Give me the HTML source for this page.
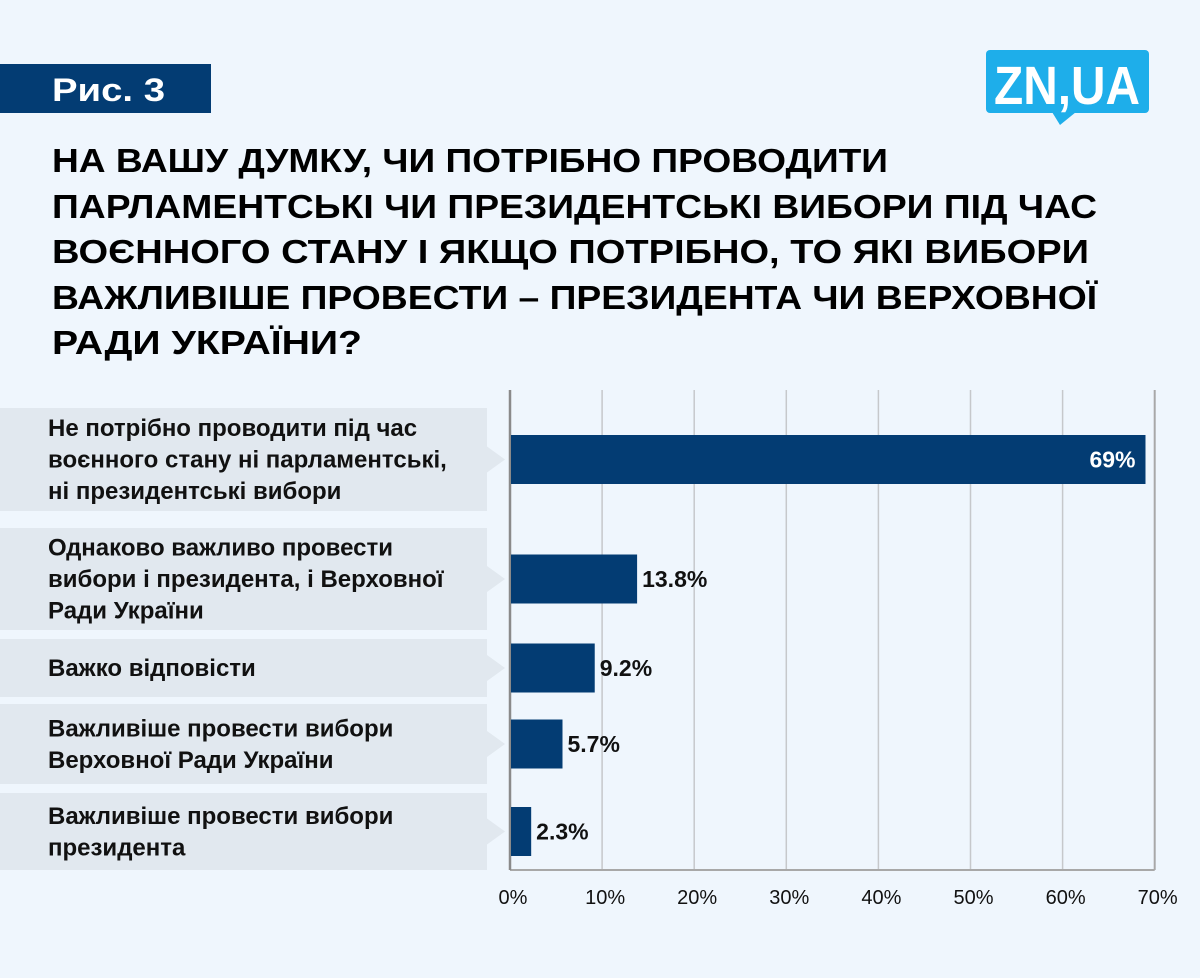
<!DOCTYPE html>
<html><head><meta charset="utf-8"><style>
html,body{margin:0;padding:0;background:#eff6fd;}
svg{display:block;font-family:"Liberation Sans",sans-serif;}
</style></head><body>
<svg width="1200" height="978" viewBox="0 0 1200 978">
<rect x="0" y="0" width="1200" height="978" fill="#eff6fd"/>
<rect x="0" y="64" width="211" height="49" fill="#033c73"/>
<text x="52" y="101" font-size="32" font-weight="bold" fill="#fff" textLength="113" lengthAdjust="spacingAndGlyphs">Рис. 3</text>
<g>
<rect x="986" y="50" width="163" height="63" rx="4" fill="#1eaeea"/>
<polygon points="1052,112 1076,112 1060,125" fill="#1eaeea"/>
<text x="1067" y="104" font-size="54" font-weight="bold" fill="#fff" text-anchor="middle" textLength="146" lengthAdjust="spacingAndGlyphs">ZN,UA</text>
</g>
<g font-size="33" font-weight="bold" fill="#000">
<text x="52" y="172" textLength="836" lengthAdjust="spacingAndGlyphs">НА ВАШУ ДУМКУ, ЧИ ПОТРІБНО ПРОВОДИТИ</text>
<text x="52" y="218" textLength="1045" lengthAdjust="spacingAndGlyphs">ПАРЛАМЕНТСЬКІ ЧИ ПРЕЗИДЕНТСЬКІ ВИБОРИ ПІД ЧАС</text>
<text x="52" y="263" textLength="1037" lengthAdjust="spacingAndGlyphs">ВОЄННОГО СТАНУ І ЯКЩО ПОТРІБНО, ТО ЯКІ ВИБОРИ</text>
<text x="52" y="309" textLength="1045" lengthAdjust="spacingAndGlyphs">ВАЖЛИВІШЕ ПРОВЕСТИ – ПРЕЗИДЕНТА ЧИ ВЕРХОВНОЇ</text>
<text x="52" y="354" textLength="310" lengthAdjust="spacingAndGlyphs">РАДИ УКРАЇНИ?</text>
</g>
<g id="grid"></g>
<g id="labels"></g>
<g id="bars"></g>
<g id="ticks"></g>
</svg>
<script>
const categories = [
 ["Не потрібно проводити під час","воєнного стану ні парламентські,","ні президентські вибори"],
 ["Однаково важливо провести","вибори і президента, і Верховної","Ради України"],
 ["Важко відповісти"],
 ["Важливіше провести вибори","Верховної Ради України"],
 ["Важливіше провести вибори","президента"]
];
const values = [69, 13.8, 9.2, 5.7, 2.3];
const valueLabels = ["69%","13.8%","9.2%","5.7%","2.3%"];
const tickValues = [0,10,20,30,40,50,60,70];
const tickLabels = ["0%","10%","20%","30%","40%","50%","60%","70%"];

const NS="http://www.w3.org/2000/svg";
const x0=510, pxPer=9.21, plotTop=390, plotBottom=870;
const xScale=v=>x0+v*pxPer;
const boxes=[[408,511],[528,630],[639,697],[704,784],[793,870]];
const barH=49;
function mk(tag,attrs,parent){const e=document.createElementNS(NS,tag);for(const k in attrs)e.setAttribute(k,attrs[k]);parent.appendChild(e);return e;}
const grid=document.getElementById('grid'), labels=document.getElementById('labels'), bars=document.getElementById('bars'), ticks=document.getElementById('ticks');

tickValues.forEach((t,i)=>{
 const x=xScale(t);
 if(i>0){const l=mk('line',{x1:x,x2:x,y1:plotTop,y2:plotBottom,stroke:i===tickValues.length-1?'#a8a8a8':'#c6c8cb','stroke-width':i===tickValues.length-1?2:1.5},grid);
 
 }
 const tx=mk('text',{x:x+3,y:904,'font-size':20,'text-anchor':'middle',fill:'#111'},ticks);
 tx.textContent=tickLabels[i];
 
 
});
const bl=mk('line',{x1:x0,x2:xScale(70),y1:plotBottom,y2:plotBottom,stroke:'#a8a8a8','stroke-width':2},grid);


const al=mk('line',{x1:x0,x2:x0,y1:plotTop,y2:plotBottom,stroke:'#8a8a8a','stroke-width':2.5},grid);



categories.forEach((lines,i)=>{
 const [y1,y2]=boxes[i], cy=(y1+y2)/2;
 const r=mk('rect',{x:0,y:y1,width:487,height:y2-y1,fill:'#e1e8ef'},labels);
 
 
 const p=mk('polygon',{points:`487,${cy-13} 505,${cy} 487,${cy+13}`,fill:'#e1e8ef'},labels);
 
 
 const lh=31.5, start=cy-(lines.length-1)*lh/2+8;
 lines.forEach((s,j)=>{
  const t=mk('text',{x:48,y:start+j*lh,'font-size':24,'font-weight':'bold',fill:'#111'},labels);
  t.textContent=s;
  
  
 });
 const bx=x0+1, bw=xScale(values[i])-bx;
 const b=mk('rect',{x:bx,y:cy-barH/2,width:bw,height:barH,fill:'#033c73'},bars);
 
 
 const inside=values[i]>30;
 const vt=mk('text',{x:inside?xScale(values[i])-10:xScale(values[i])+5,y:cy+8,'font-size':23,'font-weight':'bold','text-anchor':inside?'end':'start',fill:inside?'#fff':'#111'},bars);
 vt.textContent=valueLabels[i];
 
 
});
</script>
</body></html>
